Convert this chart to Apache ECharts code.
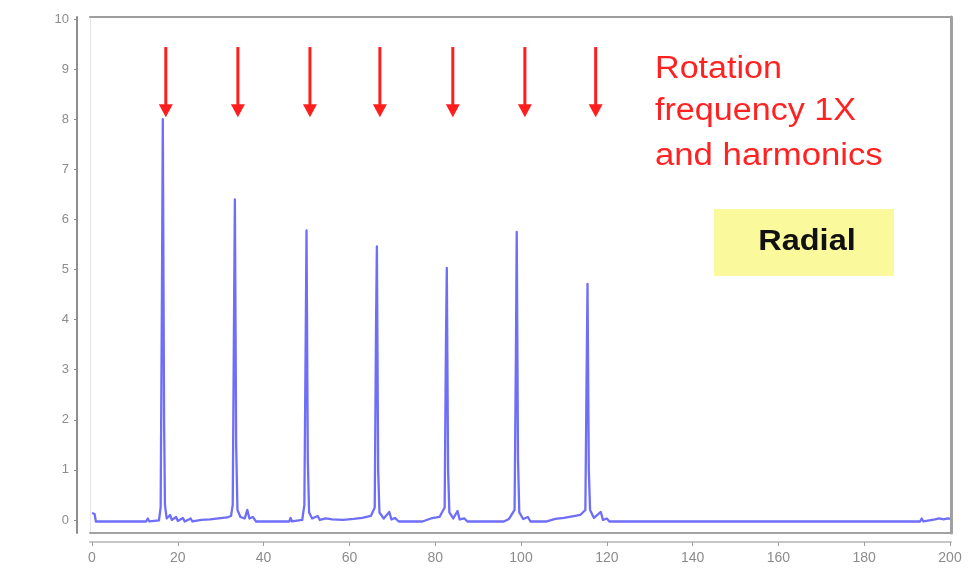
<!DOCTYPE html>
<html>
<head>
<meta charset="utf-8">
<script src="https://cdn.jsdelivr.net/npm/echarts@6/dist/echarts.min.js"></script>
<style>
  html, body { margin: 0; padding: 0; background: #ffffff; }
  #chart { width: 973px; height: 571px; }
</style>
</head>
<body>
<div id="chart"></div>
<script>
// Vibration spectrum: frequency (Hz) vs amplitude, radial direction
const freqHz = [
  0, 0.6, 0.9, 12.6, 13.0, 13.4, 15.6, 16.0, 16.3, 16.5, 16.8, 17.0, 17.4, 18.2, 18.6, 19.6, 20.0, 21.2, 21.6, 23.0, 23.4,
  25.5, 27.5, 29.5, 31.5, 32.4, 32.8, 33.1, 33.3, 33.6, 33.9, 34.6, 35.6, 36.2, 36.7, 37.5, 38.2,
  46.0, 46.3, 46.6, 49.0, 49.5, 49.8, 50.0, 50.3, 50.6, 51.3, 52.6, 53.1, 54.5, 56.0, 58.5,
  61.0, 63.0, 65.0, 65.9, 66.2, 66.4, 66.7, 67.0, 68.0, 69.3, 69.8, 70.6, 71.5,
  77.0, 79.0, 81.0, 82.2, 82.5, 82.7, 83.0, 83.3, 84.2, 85.2, 85.7, 86.8, 87.5,
  96.0, 97.2, 98.5, 98.8, 99.0, 99.3, 99.6, 100.5, 101.6, 102.2,
  106.0, 108.0, 110.0, 112.0, 113.8, 115.0, 115.3, 115.5, 115.8, 116.1, 117.0, 118.6, 119.1, 120.0, 120.6,
  193.0, 193.4, 193.8, 196.5, 197.5, 198.5, 199.5, 200.0
];
const amplitude = [
  0.14, 0.12, -0.03, -0.03, 0.03, -0.03, -0.01, 0.25, 4.5, 8.0, 2.0, 0.3, 0.03, 0.1, 0.0, 0.06, -0.02, 0.04, -0.03, 0.03, -0.03,
  0.0, 0.01, 0.03, 0.05, 0.08, 0.3, 4.0, 6.4, 1.5, 0.2, 0.06, 0.03, 0.2, 0.03, 0.06, -0.03,
  -0.03, 0.04, -0.03, 0.0, 0.3, 3.5, 5.78, 1.2, 0.15, 0.03, 0.08, 0.0, 0.03, 0.01, 0.0,
  0.02, 0.04, 0.08, 0.25, 3.8, 5.46, 1.0, 0.15, 0.03, 0.16, 0.01, 0.04, -0.03,
  -0.03, 0.03, 0.06, 0.25, 3.5, 5.03, 1.0, 0.15, 0.03, 0.18, 0.01, 0.03, -0.03,
  -0.03, 0.02, 0.2, 3.2, 5.75, 1.2, 0.15, 0.02, 0.06, -0.03,
  -0.03, 0.02, 0.04, 0.07, 0.1, 0.2, 3.0, 4.71, 1.0, 0.2, 0.04, 0.16, 0.0, 0.03, -0.03,
  -0.03, 0.03, -0.03, 0.01, 0.03, 0.01, 0.03, 0.02
];

// Red markers for the rotation frequency (1X) and its harmonics
const harmonicFreq = [17.2, 34.0, 50.8, 67.1, 84.1, 100.9, 117.4];
const harmonicArrowTop = [9.44, 9.44, 9.44, 9.44, 9.44, 9.44, 9.44];
const harmonicArrowTip = [8.04, 8.04, 8.04, 8.04, 8.04, 8.04, 8.04];

const xTickValues = [0, 20, 40, 60, 80, 100, 120, 140, 160, 180, 200];
const yTickValues = [0, 1, 2, 3, 4, 5, 6, 7, 8, 9, 10];

const noteLines = ['Rotation', 'frequency 1X', 'and harmonics'];
const badgeText = 'Radial';

const spectrum = freqHz.map((f, i) => [f, amplitude[i]]);
const arrows = harmonicFreq.map((f, i) => [f, harmonicArrowTop[i], harmonicArrowTip[i]]);

const FONT = '"Liberation Sans", Arial, sans-serif';
const xRange = { min: -0.47, max: 200.23 };
const yRange = { min: -0.26, max: 10.04 };

const frameAxis = (color, width) => ({
  show: true,
  axisLine: { show: true, onZero: false, lineStyle: { color: color, width: width } },
  axisTick: { show: false },
  axisLabel: { show: false },
  splitLine: { show: false }
});

const chart = echarts.init(document.getElementById('chart'), null, { renderer: 'canvas' });

chart.setOption({
  animation: false,
  backgroundColor: '#ffffff',
  grid: { left: 90, right: 22, top: 17, bottom: 38 },
  xAxis: [
    {
      type: 'value', position: 'bottom', offset: 9,
      min: xRange.min, max: xRange.max,
      axisLine: { show: true, onZero: false, lineStyle: { color: '#c6c6c6', width: 2 } },
      axisTick: { show: true, customValues: xTickValues, length: 4, lineStyle: { color: '#a0a0a0' } },
      axisLabel: { customValues: xTickValues, margin: 9, fontSize: 14, color: '#8c8c8c', fontFamily: FONT },
      splitLine: { show: false }
    },
    Object.assign({ type: 'value', position: 'top', min: xRange.min, max: xRange.max }, frameAxis('#9e9e9e', 2)),
    Object.assign({ type: 'value', position: 'bottom', offset: 0, min: xRange.min, max: xRange.max }, frameAxis('#a2a2a2', 2))
  ],
  yAxis: [
    {
      type: 'value', position: 'left', offset: 13,
      min: yRange.min, max: yRange.max,
      axisLine: { show: true, onZero: false, lineStyle: { color: '#8e8e8e', width: 2 } },
      axisTick: { show: true, customValues: yTickValues, length: 3, lineStyle: { color: '#8e8e8e' } },
      axisLabel: { customValues: yTickValues, margin: 8, fontSize: 13, color: '#8c8c8c', fontFamily: FONT },
      splitLine: { show: false }
    },
    Object.assign({ type: 'value', position: 'right', min: yRange.min, max: yRange.max }, frameAxis('#a0a0a0', 3)),
    Object.assign({ type: 'value', position: 'left', offset: 0, min: yRange.min, max: yRange.max }, frameAxis('#e6e6e6', 1))
  ],
  series: [
    {
      name: 'Spectrum',
      type: 'line',
      xAxisIndex: 0,
      yAxisIndex: 0,
      data: spectrum,
      showSymbol: false,
      symbol: 'none',
      lineStyle: { color: '#6e6ef8', width: 2.3, join: 'round' },
      z: 3
    },
    {
      name: 'Harmonics',
      type: 'custom',
      xAxisIndex: 0,
      yAxisIndex: 0,
      data: arrows,
      encode: { x: 0, y: [1, 2] },
      z: 4,
      renderItem: function (params, api) {
        const top = api.coord([api.value(0), api.value(1)]);
        const tip = api.coord([api.value(0), api.value(2)]);
        const headH = 13, headW = 7;
        return {
          type: 'group',
          children: [
            {
              type: 'line',
              shape: { x1: top[0], y1: top[1], x2: tip[0], y2: tip[1] - headH + 1 },
              style: { stroke: '#ff1e1e', lineWidth: 3 }
            },
            {
              type: 'polygon',
              shape: { points: [[tip[0] - headW, tip[1] - headH], [tip[0] + headW, tip[1] - headH], [tip[0], tip[1]]] },
              style: { fill: '#ff1e1e' }
            }
          ]
        };
      }
    }
  ],
  graphic: [
    {
      type: 'text', x: 655, y: 69, scaleX: 1.1,
      style: { text: noteLines[0], fill: '#ff2222', font: '31px ' + FONT, verticalAlign: 'middle', align: 'left' }
    },
    {
      type: 'text', x: 655, y: 111, scaleX: 1.1,
      style: { text: noteLines[1], fill: '#ff2222', font: '31px ' + FONT, verticalAlign: 'middle', align: 'left' }
    },
    {
      type: 'text', x: 655, y: 156, scaleX: 1.12,
      style: { text: noteLines[2], fill: '#ff2222', font: '31px ' + FONT, verticalAlign: 'middle', align: 'left' }
    },
    {
      type: 'rect', x: 714, y: 209,
      shape: { width: 180, height: 67 },
      style: { fill: '#fafa9c' }
    },
    {
      type: 'text', x: 807, y: 242, scaleX: 1.12,
      style: { text: badgeText, fill: '#111111', font: 'bold 29px ' + FONT, verticalAlign: 'middle', align: 'center' }
    }
  ]
});
</script>
</body>
</html>
